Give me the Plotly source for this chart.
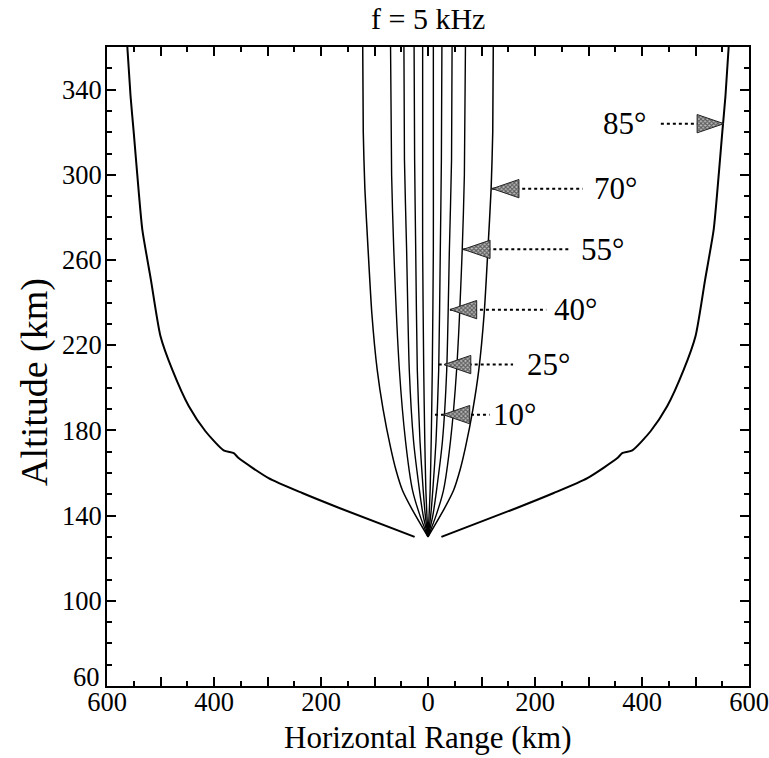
import numpy as np
import plotly.graph_objects as go

# ---------------- data (km) ----------------
# Ray paths, right-hand side (mirrored to the left)
ray_10_x = [0, 2, 4, 6, 8, 10, 10, 10]
ray_10_alt = [130, 140, 152, 175, 208.5, 265, 307, 360]
ray_25_x = [0, 5, 9, 15, 20, 23, 25, 26]
ray_25_alt = [130, 140, 152, 175, 208.5, 265, 307, 360]
ray_40_x = [0, 9, 16, 27, 35, 40, 44, 45]
ray_40_alt = [130, 140, 152, 175, 208.5, 265, 307, 360]
ray_55_x = [0, 15, 29, 42, 53.5, 64, 68, 70]
ray_55_alt = [130, 140, 152, 175, 208.5, 265, 300, 360]
ray_70_x = [0, 30, 48, 60, 70, 84, 95, 105, 112, 118, 121, 122]
ray_70_alt = [130, 143, 152, 161.5, 172, 190, 208.5, 235, 265, 293.5, 320, 360]
ray_85_x = [25, 167, 235, 298, 354, 363, 382, 416, 447, 478, 500, 518, 534, 540, 550, 556, 562]
ray_85_alt = [130, 143.7, 150.6, 157.6, 167, 169.3, 170.6, 179.6, 191.3, 208.5, 224.2,
              250.8, 274.3, 290, 319.8, 337, 360]

# Arrow annotations
arrow_labels = ["85°", "70°", "55°", "40°", "25°", "10°"]
arrow_alt = [324, 293.5, 265, 236.7, 210.9, 187.4]
arrow_tip = [553, 120, 66, 41, 30, 28]
arrow_line_end = [432, 289, 267, 221, 159, 115]
arrow_line_start = [553, 120, 66, 41, 20, 13]
arrow_label_x = [367, 350, 326, 276, 225, 162]
arrow_dir = [1, -1, -1, -1, -1, -1]   # +1 points right, -1 points left

x_tickvals = list(range(-600, 601, 100))
x_ticktext = [str(abs(v)) if v % 200 == 0 else "" for v in x_tickvals]
y_tickvals = list(range(60, 341, 40))
y_ticktext = ["" if v == 60 else str(v) for v in y_tickvals]   # "60" is drawn raised, below

# ---------------- figure ----------------
FONT = "Liberation Serif"
TICK_SIZE = 26.5
fig = go.Figure()

rays = [(ray_10_x, ray_10_alt, 1.4), (ray_25_x, ray_25_alt, 1.4), (ray_40_x, ray_40_alt, 1.4),
        (ray_55_x, ray_55_alt, 1.4), (ray_70_x, ray_70_alt, 1.5), (ray_85_x, ray_85_alt, 2.0)]
for xs, alts, w in rays:
    for sgn in (1, -1):
        fig.add_trace(go.Scatter(x=[sgn * v for v in xs], y=alts, mode="lines",
                                 line=dict(color="black", width=w, shape="spline", smoothing=0.6),
                                 hoverinfo="skip", showlegend=False))

HEAD_LEN = 50
HEAD_HALF = 4.3
for lab, alt, tip, lend, lstart, lx, d in zip(arrow_labels, arrow_alt, arrow_tip, arrow_line_end,
                                              arrow_line_start, arrow_label_x, arrow_dir):
    # dotted shaft
    fig.add_trace(go.Scatter(x=[lstart, lend], y=[alt, alt], mode="lines",
                             line=dict(color="black", width=2, dash="dot"),
                             hoverinfo="skip", showlegend=False))
    back = tip - d * HEAD_LEN
    fig.add_trace(go.Scatter(x=[tip, back, back, tip], y=[alt, alt + HEAD_HALF, alt - HEAD_HALF, alt],
                             mode="lines", fill="toself", fillcolor="#777",
                             fillpattern=dict(shape="x", fgcolor="black", bgcolor="#bbb",
                                              size=3, solidity=0.6),
                             line=dict(color="#222", width=1), hoverinfo="skip", showlegend=False))
    fig.add_annotation(x=lx, y=alt, text=lab, showarrow=False, xanchor="center", yanchor="middle",
                       font=dict(family=FONT, size=31, color="black"))

axis_common = dict(showline=True, linewidth=2, linecolor="black", mirror="allticks",
                   ticks="inside", tickwidth=1.5, tickcolor="black", showgrid=False, zeroline=False,
                   tickfont=dict(family=FONT, size=TICK_SIZE, color="black"),
                   ticklabeloverflow="allow", automargin=False)
fig.update_xaxes(range=[-600, 600], tickmode="array", tickvals=x_tickvals, ticktext=x_ticktext,
                 ticklen=9, ticklabelstandoff=-9,
                 minor=dict(dtick=50, tick0=0, ticklen=5, ticks="inside",
                            tickcolor="black", tickwidth=1.5),
                 **axis_common)
fig.update_yaxes(range=[60, 360], tickmode="array", tickvals=y_tickvals, ticktext=y_ticktext,
                 ticklen=9, ticklabelstandoff=-2,
                 minor=dict(dtick=10, tick0=0, ticklen=5, ticks="inside",
                            tickcolor="black", tickwidth=1.5),
                 **axis_common)

# raised bottom y label, sits just above the x tick labels as in the original
fig.add_annotation(x=0, y=y_tickvals[0], xref="paper", yref="y", text=str(y_tickvals[0]),
                   showarrow=False, xanchor="right", yanchor="bottom", xshift=-5, yshift=-8,
                   font=dict(family=FONT, size=TICK_SIZE, color="black"))

fig.add_annotation(x=0.5, y=-0.08, xref="paper", yref="paper", text="Horizontal Range (km)",
                   showarrow=False, xanchor="center", yanchor="middle",
                   font=dict(family=FONT, size=31, color="black"))
fig.add_annotation(x=-0.112, y=0.476, xref="paper", yref="paper", text="Altitude (km)",
                   showarrow=False, xanchor="center", yanchor="middle", textangle=-90,
                   font=dict(family=FONT, size=38, color="black"))
fig.add_annotation(x=0.5, y=1.0736, xref="paper", yref="paper", text="f = 5 kHz",
                   showarrow=False, xanchor="center", yanchor="top",
                   font=dict(family=FONT, size=30, color="black"))

fig.update_layout(width=769, height=758, margin=dict(l=107, r=20, t=47, b=72),
                  plot_bgcolor="white", paper_bgcolor="white",
                  font=dict(family=FONT, color="black"))

fig.write_html("out.html")
